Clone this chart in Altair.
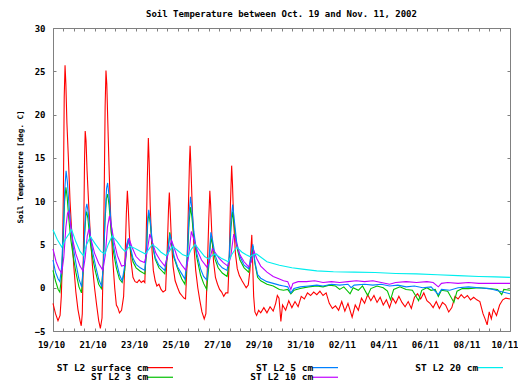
import altair as alt
import pandas as pd

chart_title = "Soil Temperature between Oct. 19 and Nov. 11, 2002"
y_title = "Soil Temperature [deg. C]"
series_names = ["ST L2 surface cm", "ST L2 3 cm", "ST L2 5 cm", "ST L2 10 cm", "ST L2 20 cm"]
series_colors = ["#ff0000", "#00c000", "#0080ff", "#c000ff", "#00eeee"]
legend_order = ["ST L2 surface cm", "ST L2 5 cm", "ST L2 20 cm", "ST L2 3 cm", "ST L2 10 cm"]
x_tick_labels = ["19/10", "21/10", "23/10", "25/10", "27/10", "29/10",
                 "31/10", "02/11", "04/11", "06/11", "08/11", "10/11"]
y_ticks = [-5, 0, 5, 10, 15, 20, 25, 30]

# (days since 19/10 00:00, temperature in deg C)
surface = [
    (0.00, -1.8), (0.12, -3.0), (0.24, -3.8), (0.34, -3.2), (0.40, -1.0), (0.45, 3.0), (0.50, 11.0),
    (0.54, 22.0), (0.58, 25.7), (0.62, 23.5), (0.67, 19.0), (0.74, 15.0), (0.82, 10.0), (0.90, 6.5),
    (1.00, 2.5), (1.10, -0.5), (1.20, -2.5), (1.30, -3.8), (1.36, -4.4), (1.41, -3.0), (1.45, 2.0),
    (1.49, 9.0), (1.52, 15.0), (1.55, 18.1), (1.59, 17.0), (1.64, 13.5), (1.72, 9.5), (1.80, 6.0),
    (1.90, 2.5), (2.00, 0.0), (2.10, -2.0), (2.20, -3.8), (2.28, -4.7), (2.36, -3.5), (2.42, 3.0),
    (2.47, 12.0), (2.51, 21.0), (2.55, 25.1), (2.59, 23.5), (2.64, 19.0), (2.71, 13.0), (2.78, 8.0),
    (2.87, 3.5), (2.97, 0.0), (3.05, -2.0), (3.12, -2.3), (3.20, -2.9), (3.30, -2.6), (3.40, -1.0),
    (3.47, 3.5), (3.53, 8.5), (3.58, 11.2), (3.62, 9.5), (3.68, 6.0), (3.76, 3.0), (3.85, 1.2),
    (3.95, 0.7), (4.05, 0.6), (4.15, 0.9), (4.25, 0.6), (4.35, 0.8), (4.42, 0.6), (4.48, 5.0),
    (4.54, 12.5), (4.59, 17.3), (4.63, 14.5), (4.68, 9.5), (4.75, 5.0), (4.83, 2.0), (4.92, 0.8),
    (5.00, 0.2), (5.10, 0.4), (5.20, -0.2), (5.30, -0.5), (5.42, -0.3), (5.50, 4.5), (5.56, 9.0),
    (5.60, 11.0), (5.64, 9.0), (5.70, 5.5), (5.78, 2.5), (5.88, 0.8), (6.00, 0.0), (6.10, -0.6),
    (6.20, -0.9), (6.30, -1.2), (6.38, -1.3), (6.45, 2.5), (6.52, 9.5), (6.57, 14.5), (6.60, 16.4),
    (6.64, 14.0), (6.70, 9.5), (6.78, 5.0), (6.87, 2.0), (6.97, 0.0), (7.07, -1.5), (7.17, -2.8),
    (7.28, -3.6), (7.36, -3.0), (7.44, 3.0), (7.50, 8.0), (7.55, 11.2), (7.59, 9.5), (7.65, 6.0),
    (7.73, 3.0), (7.82, 1.2), (7.92, 0.4), (8.02, -0.2), (8.12, -0.5), (8.22, -1.0), (8.32, -0.6),
    (8.42, -0.6), (8.48, 3.0), (8.54, 9.5), (8.60, 14.1), (8.64, 12.0), (8.70, 7.5), (8.78, 4.0),
    (8.87, 2.2), (8.97, 1.4), (9.10, 0.8), (9.20, 0.4), (9.30, 0.0), (9.40, 0.3), (9.48, 2.0),
    (9.53, 4.5), (9.57, 6.1), (9.61, 3.0), (9.66, -1.0), (9.72, -2.8), (9.80, -3.2), (9.90, -2.6),
    (10.00, -2.9), (10.15, -2.3), (10.30, -2.9), (10.45, -2.2), (10.60, -2.7), (10.72, -1.8),
    (10.80, -0.9), (10.88, -1.2), (10.97, -3.9), (11.05, -2.0), (11.20, -2.6), (11.35, -1.5),
    (11.50, -2.3), (11.65, -1.6), (11.80, -2.2), (11.95, -1.0), (12.10, -1.3), (12.25, -0.6),
    (12.40, -0.9), (12.55, -0.5), (12.70, -0.8), (12.85, -0.4), (13.00, -0.9), (13.15, -0.6),
    (13.30, -1.8), (13.45, -2.4), (13.60, -2.1), (13.75, -2.6), (13.90, -1.6), (14.05, -2.7),
    (14.20, -1.8), (14.40, -3.4), (14.55, -2.0), (14.70, -2.6), (14.85, -1.2), (15.00, -1.8),
    (15.15, -0.8), (15.30, -1.5), (15.45, -0.9), (15.60, -1.7), (15.75, -1.1), (15.90, -2.0),
    (16.05, -1.4), (16.20, -2.3), (16.35, -1.2), (16.50, -1.8), (16.65, -1.0), (16.80, -1.7),
    (16.95, -2.2), (17.10, -1.6), (17.25, -2.4), (17.40, -1.1), (17.55, -0.7), (17.70, -1.3),
    (17.85, -0.6), (18.00, -1.5), (18.15, -1.8), (18.30, -2.3), (18.45, -1.6), (18.60, -2.4),
    (18.75, -1.7), (18.90, -2.0), (19.05, -2.8), (19.20, -2.3), (19.35, -1.0), (19.50, -1.3),
    (19.65, -0.8), (19.80, -1.2), (19.95, -0.9), (20.10, -1.4), (20.25, -1.1), (20.40, -1.4),
    (20.55, -1.6), (20.70, -3.0), (20.80, -3.6), (20.90, -4.3), (21.00, -2.8), (21.10, -3.6),
    (21.20, -2.5), (21.35, -3.2), (21.50, -2.0), (21.65, -1.4), (21.80, -1.2), (22.00, -1.3)]

cm3 = [
    (0.00, 2.0), (0.12, 0.8), (0.25, -0.2), (0.33, -0.5), (0.42, 1.5), (0.50, 6.0), (0.56, 10.0),
    (0.62, 11.6), (0.68, 10.5), (0.76, 8.0), (0.86, 5.5), (0.98, 3.5), (1.10, 1.8), (1.25, 0.1),
    (1.37, -0.6), (1.45, 2.0), (1.52, 6.0), (1.58, 8.3), (1.62, 8.8), (1.68, 8.0), (1.78, 5.5),
    (1.90, 3.5), (2.05, 1.8), (2.20, 0.4), (2.33, -0.1), (2.42, 2.5), (2.50, 7.5), (2.57, 10.3),
    (2.63, 10.8), (2.70, 9.5), (2.80, 6.5), (2.92, 4.0), (3.05, 2.3), (3.20, 1.0), (3.33, 0.6),
    (3.45, 2.0), (3.55, 4.5), (3.63, 5.6), (3.72, 4.5), (3.85, 3.0), (4.00, 2.3), (4.20, 1.9),
    (4.42, 1.6), (4.50, 4.0), (4.56, 7.5), (4.61, 8.6), (4.68, 7.5), (4.78, 5.0), (4.92, 3.3),
    (5.10, 2.3), (5.38, 1.6), (5.50, 3.5), (5.62, 6.4), (5.70, 5.3), (5.82, 3.5), (6.00, 2.2),
    (6.20, 1.0), (6.35, 0.4), (6.46, 3.0), (6.55, 7.5), (6.62, 9.3), (6.68, 8.3), (6.78, 5.8),
    (6.92, 3.5), (7.10, 1.5), (7.25, 0.5), (7.40, -0.2), (7.50, 2.5), (7.60, 5.8), (7.68, 5.0),
    (7.80, 3.3), (7.95, 2.3), (8.15, 1.7), (8.38, 1.3), (8.48, 3.0), (8.57, 7.0), (8.65, 8.8),
    (8.72, 7.3), (8.84, 4.8), (9.00, 3.2), (9.20, 2.3), (9.42, 1.8), (9.52, 3.0), (9.62, 4.8),
    (9.72, 2.8), (9.85, 1.2), (10.0, 0.8), (10.3, 0.4), (10.6, 0.2), (10.9, -0.2), (11.1, -0.3),
    (11.3, -0.2), (11.45, -0.7), (11.6, -0.3), (11.9, -0.1), (12.3, 0.1), (12.7, 0.2), (13.0, 0.1),
    (13.3, 0.3), (13.6, 0.2), (13.8, -0.2), (14.0, 0.1), (14.3, -0.7), (14.45, 0.0), (14.7, -0.3),
    (14.9, 0.2), (15.15, -0.9), (15.3, -0.1), (15.6, 0.2), (15.9, 0.0), (16.1, -0.4), (16.25, -1.4),
    (16.4, -0.2), (16.7, 0.1), (17.0, -0.2), (17.3, -0.3), (17.6, -1.5), (17.75, -0.3), (18.0, 0.0),
    (18.2, -0.3), (18.4, -0.2), (18.55, -1.0), (18.7, -0.3), (19.0, -0.4), (19.3, -1.7),
    (19.45, -0.4), (19.7, -0.1), (20.0, -0.1), (20.5, 0.0), (21.0, -0.1), (21.4, -0.2),
    (21.6, -0.8), (21.7, -0.2), (22.0, -0.3)]

cm5 = [
    (0.00, 3.2), (0.12, 1.8), (0.25, 1.0), (0.33, 0.7), (0.42, 2.5), (0.50, 7.0), (0.57, 11.5),
    (0.63, 13.5), (0.69, 12.3), (0.77, 9.5), (0.87, 6.8), (0.98, 4.6), (1.12, 2.6), (1.25, 1.0),
    (1.38, 0.1), (1.46, 2.5), (1.53, 7.0), (1.59, 9.2), (1.63, 9.7), (1.70, 8.6), (1.80, 6.0),
    (1.92, 4.0), (2.06, 2.4), (2.20, 1.0), (2.35, 0.1), (2.43, 3.0), (2.51, 8.5), (2.58, 11.5),
    (2.63, 12.1), (2.70, 10.5), (2.80, 7.3), (2.92, 4.8), (3.05, 3.0), (3.20, 1.5), (3.33, 0.8),
    (3.45, 2.5), (3.55, 5.0), (3.63, 5.7), (3.72, 4.8), (3.85, 3.4), (4.00, 2.7), (4.20, 2.3),
    (4.42, 2.0), (4.50, 4.5), (4.56, 8.0), (4.61, 9.0), (4.68, 7.8), (4.78, 5.3), (4.92, 3.5),
    (5.10, 2.6), (5.38, 2.0), (5.50, 3.8), (5.63, 6.2), (5.71, 5.4), (5.83, 3.6), (6.00, 2.4),
    (6.20, 1.6), (6.35, 1.0), (6.46, 3.5), (6.55, 8.5), (6.62, 10.5), (6.68, 9.3), (6.78, 6.5),
    (6.92, 4.0), (7.10, 2.2), (7.25, 1.3), (7.40, 0.9), (7.50, 3.0), (7.60, 6.4), (7.68, 5.5),
    (7.80, 3.8), (7.95, 2.8), (8.15, 2.3), (8.38, 2.0), (8.48, 3.5), (8.57, 7.8), (8.65, 9.6),
    (8.72, 8.0), (8.84, 5.3), (9.00, 3.6), (9.20, 2.6), (9.42, 2.2), (9.52, 3.5), (9.62, 5.0),
    (9.72, 3.0), (9.85, 1.5), (10.0, 1.1), (10.3, 0.7), (10.6, 0.5), (10.9, 0.3), (11.1, 0.2),
    (11.3, 0.1), (11.45, -0.6), (11.6, -0.1), (11.9, 0.1), (12.3, 0.2), (12.7, 0.3), (13.0, 0.2),
    (13.4, 0.4), (13.8, 0.3), (14.2, 0.4), (14.35, 0.0), (14.5, 0.3), (15.0, 0.4), (15.4, 0.3),
    (15.8, 0.4), (16.2, 0.2), (16.6, 0.3), (17.0, 0.1), (17.4, 0.2), (17.8, 0.0), (18.2, 0.1),
    (18.55, -0.8), (18.7, -0.2), (19.1, -0.3), (19.5, 0.0), (20.0, 0.1), (20.5, 0.0), (21.0, -0.1),
    (21.5, -0.4), (22.0, -0.7)]

cm10 = [
    (0.00, 4.5), (0.15, 3.0), (0.30, 2.1), (0.42, 1.7), (0.52, 3.5), (0.62, 7.0), (0.70, 8.6),
    (0.75, 8.8), (0.84, 7.4), (0.96, 5.4), (1.10, 3.9), (1.30, 2.5), (1.45, 1.9), (1.55, 3.5),
    (1.65, 6.0), (1.73, 6.8), (1.85, 5.4), (2.00, 4.0), (2.20, 2.8), (2.40, 2.0), (2.52, 3.8),
    (2.62, 7.0), (2.72, 8.3), (2.82, 7.0), (2.95, 5.2), (3.10, 3.7), (3.30, 2.5), (3.45, 2.6),
    (3.55, 4.5), (3.67, 5.6), (3.80, 4.7), (4.00, 3.6), (4.20, 3.1), (4.40, 2.9), (4.52, 4.0),
    (4.66, 6.2), (4.78, 5.3), (4.95, 4.0), (5.15, 3.2), (5.38, 2.5), (5.50, 3.5), (5.70, 5.5),
    (5.82, 4.7), (6.00, 3.4), (6.20, 2.6), (6.40, 2.0), (6.52, 3.5), (6.66, 6.5), (6.78, 5.6),
    (6.95, 4.3), (7.15, 3.2), (7.40, 2.4), (7.52, 3.0), (7.67, 4.5), (7.80, 4.1), (8.00, 3.4),
    (8.20, 2.9), (8.42, 2.5), (8.55, 3.5), (8.70, 6.2), (8.85, 4.9), (9.00, 3.8), (9.20, 3.0),
    (9.42, 2.4), (9.55, 3.0), (9.67, 4.3), (9.80, 3.4), (10.0, 2.5), (10.3, 1.8), (10.6, 1.3),
    (10.9, 1.0), (11.1, 0.8), (11.3, 0.7), (11.45, -0.2), (11.55, 0.5), (11.8, 0.7), (12.2, 0.7),
    (12.6, 0.8), (13.0, 0.6), (13.4, 0.7), (13.8, 0.6), (14.2, 0.7), (14.6, 0.8), (15.0, 0.7),
    (15.4, 0.8), (15.8, 0.6), (16.2, 0.4), (16.5, 0.6), (17.0, 0.7), (17.5, 0.6), (18.0, 0.7),
    (18.3, 0.6), (18.55, 0.1), (18.7, 0.5), (19.0, 0.6), (19.5, 0.5), (20.0, 0.6), (20.5, 0.5),
    (21.0, 0.5), (21.5, 0.5), (22.0, 0.5)]

cm20 = [
    (0.0, 6.7), (0.2, 5.6), (0.42, 4.7), (0.6, 5.6), (0.9, 6.7), (1.1, 5.3), (1.3, 4.2), (1.46, 3.7),
    (1.62, 5.0), (1.8, 5.9), (2.05, 5.0), (2.3, 4.2), (2.5, 3.9), (2.66, 5.0), (2.85, 6.0), (3.1, 5.3),
    (3.3, 4.6), (3.47, 4.2), (3.7, 4.8), (3.9, 4.6), (4.2, 4.2), (4.45, 3.9), (4.6, 4.4), (4.78, 5.0),
    (5.0, 4.6), (5.2, 4.1), (5.45, 3.7), (5.6, 4.2), (5.75, 4.8), (6.0, 4.3), (6.25, 3.8), (6.5, 3.6),
    (6.65, 4.4), (6.84, 5.0), (7.1, 4.2), (7.3, 3.6), (7.5, 3.3), (7.65, 3.7), (7.8, 3.9), (8.1, 3.4),
    (8.44, 3.0), (8.6, 3.8), (8.84, 4.7), (9.1, 4.1), (9.3, 3.8), (9.48, 3.6), (9.65, 3.8), (9.8, 3.9),
    (10.3, 3.0), (10.9, 2.6), (11.5, 2.3), (12.0, 2.15), (12.7, 1.95), (13.5, 1.85), (14.5, 1.8),
    (15.5, 1.75), (16.5, 1.65), (17.5, 1.6), (18.5, 1.5), (19.5, 1.4), (20.5, 1.3), (21.3, 1.25),
    (22.0, 1.2)]

all_series = [surface, cm3, cm5, cm10, cm20]

rows = []
for name, pts in zip(series_names, all_series):
    for t, v in pts:
        rows.append({"series": name, "day": t, "temp": v})
df = pd.DataFrame(rows)

legend_colors = [series_colors[series_names.index(n)] for n in legend_order]
x_last = 2 * (len(x_tick_labels) - 1)
half_days = [i * 0.5 for i in range(2 * x_last + 1)]
label_array = "[" + ",".join("'" + s + "'" for s in x_tick_labels) + "]"
x_label_expr = "datum.value % 2 == 0 ? " + label_array + "[datum.value / 2] : ''"

FONT = "DejaVu Sans Mono"
GRAY = "#808080"

xscale = alt.Scale(domain=[0, x_last], nice=False, zero=False)
yscale = alt.Scale(domain=[y_ticks[0], y_ticks[-1]], nice=False, zero=False)

lines = alt.Chart(df).mark_line(strokeWidth=1.1).encode(
    x=alt.X("day:Q", scale=xscale, axis=alt.Axis(
        orient="bottom", values=half_days, labelExpr=x_label_expr, tickSize=3, offset=-3,
        domain=False, grid=False, title=None, labelPadding=9, labelFont=FONT, labelFontSize=9,
        labelFontWeight="bold", labelColor="black", tickColor=GRAY, labelAngle=0,
        labelBaseline="top", labelOverlap=False, labelBound=False, labelFlush=False,
        labelAlign={"condition": {"test": "datum.value == %d" % x_last, "value": "right"}, "value": "center"},
        labelOffset={"condition": {"test": "datum.value == %d" % x_last, "value": 8}, "value": -2})),
    y=alt.Y("temp:Q", scale=yscale, axis=alt.Axis(
        orient="left", values=y_ticks, tickSize=3, offset=-3, domain=False, grid=False,
        title=y_title, titleFont=FONT, titleFontSize=7.5, titleFontWeight="bold", titleColor="black",
        titleX=-36, titleY=138.5, titleAngle=270, titleAlign="center", titleBaseline="middle",
        labelPadding=8, labelFont=FONT, labelFontSize=9, labelFontWeight="bold",
        labelColor="black", tickColor=GRAY, labelOverlap=False)),
    color=alt.Color("series:N", scale=alt.Scale(domain=legend_order, range=legend_colors),
                    legend=alt.Legend(orient="none", legendX=94, legendY=334.5, direction="horizontal",
                                      columns=3, title=None, symbolType="M-3.357,0H3.357", symbolSize=60,
                                      symbolOffset=8.25, symbolStrokeWidth=1.2,
                                      rowPadding=alt.ExprRef("-2"),
                                      columnPadding=74, labelAlign="right",
                                      labelOffset=alt.ExprRef("-16.5"),
                                      labelFont=FONT, labelFontSize=9.5, labelFontWeight="bold",
                                      labelColor="black", labelLimit=300, padding=0,
                                      labelExpr="pad(datum.label, 16, '\u00a0', 'left')")),
)

mirror = alt.Chart(df).mark_line(opacity=0).encode(
    x=alt.X("day:Q", scale=xscale, axis=alt.Axis(
        orient="top", values=half_days, labels=False, tickSize=3, offset=-3, domain=False,
        grid=False, title=None, tickColor=GRAY)),
    y=alt.Y("temp:Q", scale=yscale, axis=alt.Axis(
        orient="right", values=y_ticks, labels=False, tickSize=3, offset=-3, domain=False,
        grid=False, title=None, tickColor=GRAY)),
    detail="series:N",
)

chart = alt.layer(lines, mirror).resolve_axis(x="independent", y="independent").properties(
    width=457, height=303,
    title=alt.TitleParams(chart_title, font=FONT, fontSize=9, fontWeight="bold", anchor="middle",
                          offset=5, color="black"),
    autosize=alt.AutoSizeParams(type="none"),
    padding={"left": 45, "top": 20, "right": 8, "bottom": 50},
).configure_view(stroke=GRAY, strokeWidth=1)

chart.save("out.html", embed_options={"renderer": "svg", "actions": False})
